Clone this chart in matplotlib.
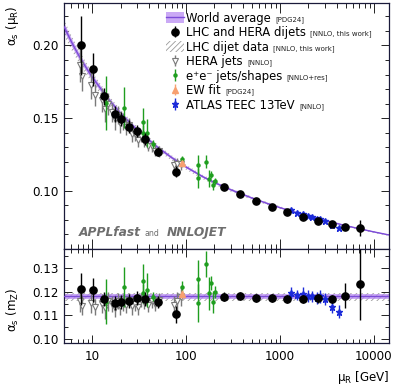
import matplotlib
matplotlib.use("Agg")
import matplotlib.pyplot as plt
from matplotlib.patches import Patch
from matplotlib.lines import Line2D
import matplotlib.ticker as mticker

plt.rcParams['font.family'] = ['DejaVu Sans']
plt.rcParams['mathtext.fontset'] = 'dejavusans'
plt.rcParams['mathtext.default'] = 'regular'
plt.rcParams['hatch.linewidth'] = 0.6

# ---------------- data ----------------
# world average running curve  alpha_s(mu), and band half width
curve_mu = [5, 6, 7, 8, 10, 15, 20, 30, 50, 70, 100, 150, 200, 300, 500, 700,
            1000, 1500, 2000, 3000, 5000, 7000, 10000, 14500]
curve_as = [0.2130, 0.2025, 0.19445, 0.1880, 0.17817, 0.1628, 0.15337, 0.14194,
            0.12983, 0.12293, 0.11638, 0.10978, 0.10572, 0.10074, 0.09513, 0.09177,
            0.08846, 0.08498, 0.08267, 0.07962, 0.07609, 0.07394, 0.07177, 0.06966]
curve_err = [0.0029, 0.0027, 0.0024, 0.0023, 0.0021, 0.0017, 0.0015, 0.0013, 0.0011,
             0.0010, 0.0009, 0.0008, 0.0007, 0.0007, 0.0006, 0.0005, 0.0005, 0.0005,
             0.0004, 0.0004, 0.0004, 0.0004, 0.0003, 0.0003]
# LHC dijet data fit band (hatched)
dijet_band_as = [0.2123, 0.2019, 0.1939, 0.1875, 0.1777, 0.1624, 0.1530, 0.1416, 0.1296,
                 0.1227, 0.1162, 0.1096, 0.1056, 0.1006, 0.0950, 0.0917, 0.0884, 0.0849,
                 0.0826, 0.0795, 0.0760, 0.0739, 0.0717, 0.0696]
dijet_band_err = [0.0055, 0.0050, 0.0046, 0.0043, 0.0039, 0.0032, 0.0029, 0.0025, 0.0021,
                  0.0018, 0.0017, 0.0015, 0.0014, 0.0012, 0.0011, 0.0010, 0.0010, 0.0009,
                  0.0008, 0.0008, 0.0007, 0.0007, 0.0006, 0.0006]
wa_mz, wa_mz_err = 0.1180, 0.0009
dijet_mz, dijet_mz_err = 0.1178, 0.0017

# LHC and HERA dijets (this work)
mu_lh = [7.58, 10.3, 13.5, 17.6, 20.3, 24.9, 29.9, 36.9, 50.0, 78.3, 252, 375, 560, 822,
         1187, 1770, 2556, 3574, 4914, 7097]
as_mu_lh = [0.2000, 0.1835, 0.1650, 0.1527, 0.1493, 0.1442, 0.1412, 0.1356, 0.1269, 0.1132,
            0.1027, 0.0980, 0.0930, 0.0890, 0.0856, 0.0822, 0.0794, 0.0770, 0.0750, 0.0745]
err_mu_lh = [0.0200, 0.0115, 0.0060, 0.0055, 0.0050, 0.0047, 0.0044, 0.0040, 0.0030, 0.0037,
             0.0013, 0.0012, 0.0011, 0.0010, 0.0009, 0.0008, 0.0008, 0.0008, 0.0022, 0.0055]
as_mz_lh = [0.1212, 0.1206, 0.1169, 0.1151, 0.1155, 0.1160, 0.1172, 0.1169, 0.1155, 0.1104,
            0.1179, 0.1182, 0.1172, 0.1172, 0.1169, 0.1168, 0.1172, 0.1170, 0.1183, 0.1232]
err_mz_lh = [0.0068, 0.0050, 0.0030, 0.0030, 0.0030, 0.0030, 0.0030, 0.0030, 0.0025, 0.0035,
             0.0018, 0.0017, 0.0017, 0.0017, 0.0016, 0.0017, 0.0018, 0.0018, 0.0053, 0.0150]

# HERA jets
mu_hera = [7.4, 7.8, 9.8, 10.6, 12.8, 13.6, 14.6, 16.4, 17.4, 18.6, 19.8, 21.2, 23.0, 24.6,
           26.5, 28.6, 30.6, 33.0, 36.0, 39.0, 43.0, 47.0, 52.0, 74.0, 80.0, 88.0]
as_mu_hera = [0.1865, 0.1789, 0.1727, 0.1660, 0.1627, 0.1565, 0.1599, 0.1540, 0.1493, 0.1522,
              0.1469, 0.1476, 0.1438, 0.1452, 0.1390, 0.1389, 0.1350, 0.1376, 0.1342, 0.1311,
              0.1308, 0.1276, 0.1272, 0.1178, 0.1184, 0.1185]
err_mu_hera = [0.0119, 0.0103, 0.0092, 0.0078, 0.0082, 0.0090, 0.0077, 0.0064, 0.0072, 0.0061,
               0.0068, 0.0058, 0.0056, 0.0047, 0.0053, 0.0044, 0.0050, 0.0042, 0.0041, 0.0040,
               0.0038, 0.0037, 0.0036, 0.0043, 0.0042, 0.0040]
as_mz_hera = [0.1160, 0.1140, 0.1152, 0.1135, 0.1150, 0.1130, 0.1160, 0.1148, 0.1132, 0.1160,
              0.1140, 0.1155, 0.1145, 0.1165, 0.1138, 0.1150, 0.1135, 0.1165, 0.1155, 0.1145,
              0.1160, 0.1150, 0.1165, 0.1142, 0.1160, 0.1178]
err_mz_hera = [0.0045, 0.0040, 0.0040, 0.0035, 0.0040, 0.0045, 0.0040, 0.0035, 0.0040, 0.0035,
               0.0040, 0.0035, 0.0035, 0.0030, 0.0035, 0.0030, 0.0035, 0.0030, 0.0030, 0.0030,
               0.0030, 0.0030, 0.0030, 0.0040, 0.0040, 0.0040]

# e+e- jets / shapes
mu_ee = [14.1, 22.0, 35.1, 35.1, 38.2, 44.9, 91.2, 135, 135, 163, 176, 184, 192, 203]
as_mu_ee = [0.1607, 0.1572, 0.1473, 0.1400, 0.1398, 0.1323, 0.1221, 0.1179, 0.1089, 0.1201,
            0.1085, 0.1112, 0.1042, 0.1070]
err_mu_ee = [0.0186, 0.0139, 0.0096, 0.0055, 0.0093, 0.0025, 0.0022, 0.0071, 0.0071, 0.0047,
             0.0058, 0.0025, 0.0036, 0.0020]
as_mz_ee = [0.1157, 0.1220, 0.1246, 0.1193, 0.1207, 0.1179, 0.1221, 0.1252, 0.1151, 0.1317,
            0.1193, 0.1235, 0.1157, 0.1200]
err_mz_ee = [0.0095, 0.0085, 0.0070, 0.0040, 0.0070, 0.0020, 0.0022, 0.0080, 0.0080, 0.0055,
             0.0070, 0.0030, 0.0045, 0.0025]

# EW fit
mu_ew = [91.19]
as_mu_ew = [0.1192]
err_mu_ew = [0.0015]
as_mz_ew = [0.1190]
err_mz_ew = [0.0015]

# ATLAS TEEC 13 TeV
mu_teec = [1309, 1528, 1770, 1971, 2206, 2457, 2683, 3034, 3548, 4245]
as_mu_teec = [0.0869, 0.0851, 0.0842, 0.0829, 0.0819, 0.0807, 0.0805, 0.0790, 0.0766, 0.0744]
err_mu_teec = [0.0013, 0.0011, 0.0015, 0.0012, 0.0011, 0.0012, 0.0013, 0.0011, 0.0012, 0.0012]
as_mz_teec = [0.1193, 0.1186, 0.1190, 0.1182, 0.1180, 0.1172, 0.1180, 0.1168, 0.1136, 0.1115]
err_mz_teec = [0.0025, 0.0022, 0.0030, 0.0025, 0.0022, 0.0025, 0.0028, 0.0025, 0.0028, 0.0028]

legend_labels = ["World average", "LHC and HERA dijets", "LHC dijet data", "HERA jets",
                 "e\u207ae\u207b jets/shapes", "EW fit", "ATLAS TEEC 13TeV"]
legend_notes = ["[PDG24]", "[NNLO, this work]", "[NNLO, this work]", "[NNLO]",
                "[NNLO+res]", "[PDG24]", "[NNLO]"]

xtick_vals = [10, 100, 1000, 10000]
xtick_labels = ["10", "100", "1000", "10000"]
ytick_top = [0.10, 0.15, 0.20]
ytick_top_labels = ["0.10", "0.15", "0.20"]
ytick_bot = [0.10, 0.11, 0.12, 0.13]
ytick_bot_labels = ["0.10", "0.11", "0.12", "0.13"]

# ---------------- style ----------------
C_WA_FILL = '#b98cf2'
C_WA_LINE = '#7c4bd8'
C_HATCH = '#9a9a9a'
C_GREY = '#7a7a7a'
C_GREEN = '#1f9e1f'
C_BLUE = '#1c2bd9'
C_ORANGE = '#f7a070'
FRAME = '#1a1a3a'
FS = 8.6

fig = plt.figure(figsize=(3.98, 3.88), dpi=100)
ax1 = fig.add_axes([0.1608, 0.3582, 0.8166, 0.6333])
ax2 = fig.add_axes([0.1608, 0.1152, 0.8166, 0.2430], sharex=ax1)

# --- top panel ---
lo_d = [c - e for c, e in zip(dijet_band_as, dijet_band_err)]
hi_d = [c + e for c, e in zip(dijet_band_as, dijet_band_err)]
ax1.fill_between(curve_mu, lo_d, hi_d, facecolor='none', edgecolor=C_HATCH,
                 hatch='//////', linewidth=0, zorder=1)
lo_w = [c - e for c, e in zip(curve_as, curve_err)]
hi_w = [c + e for c, e in zip(curve_as, curve_err)]
ax1.fill_between(curve_mu, lo_w, hi_w, facecolor=C_WA_FILL, alpha=0.75, linewidth=0, zorder=2)
ax1.plot(curve_mu, curve_as, color=C_WA_LINE, lw=1.0, zorder=3)

eb_kw = dict(linestyle='none', capsize=0)
h_hera = ax1.errorbar(mu_hera, as_mu_hera, yerr=err_mu_hera, marker='v', ms=3.9,
                      mfc='white', mec=C_GREY, mew=0.8, ecolor=C_GREY, elinewidth=1.0,
                      zorder=4, **eb_kw)
h_ee = ax1.errorbar(mu_ee, as_mu_ee, yerr=err_mu_ee, marker='o', ms=2.2, color=C_GREEN,
                    ecolor=C_GREEN, elinewidth=1.0, zorder=5, **eb_kw)
h_teec = ax1.errorbar(mu_teec, as_mu_teec, yerr=err_mu_teec, marker='*', ms=4.5,
                      color=C_BLUE, ecolor=C_BLUE, elinewidth=1.0, zorder=5, **eb_kw)
h_lh = ax1.errorbar(mu_lh, as_mu_lh, yerr=err_mu_lh, marker='o', ms=5.2, color='black',
                    ecolor='black', elinewidth=1.0, zorder=6, **eb_kw)
h_ew = ax1.errorbar(mu_ew, as_mu_ew, yerr=err_mu_ew, marker='^', ms=3.8, color=C_ORANGE,
                    ecolor=C_ORANGE, elinewidth=1.0, zorder=7, **eb_kw)

# --- bottom panel ---
ax2.axhspan(dijet_mz - dijet_mz_err, dijet_mz + dijet_mz_err, facecolor='none',
            edgecolor=C_HATCH, hatch='//////', linewidth=0, zorder=1)
ax2.axhspan(wa_mz - wa_mz_err, wa_mz + wa_mz_err, facecolor=C_WA_FILL, alpha=0.75,
            linewidth=0, zorder=2)
ax2.axhline(wa_mz, color=C_WA_LINE, lw=1.0, zorder=3)
ax2.errorbar(mu_hera, as_mz_hera, yerr=err_mz_hera, marker='v', ms=3.9, mfc='white',
             mec=C_GREY, mew=0.8, ecolor=C_GREY, elinewidth=1.0, zorder=4, **eb_kw)
ax2.errorbar(mu_ee, as_mz_ee, yerr=err_mz_ee, marker='o', ms=2.2, color=C_GREEN,
             ecolor=C_GREEN, elinewidth=1.0, zorder=5, **eb_kw)
ax2.errorbar(mu_teec, as_mz_teec, yerr=err_mz_teec, marker='*', ms=4.5, color=C_BLUE,
             ecolor=C_BLUE, elinewidth=1.0, zorder=5, **eb_kw)
ax2.errorbar(mu_lh, as_mz_lh, yerr=err_mz_lh, marker='o', ms=5.2, color='black',
             ecolor='black', elinewidth=1.0, zorder=6, **eb_kw)
ax2.errorbar(mu_ew, as_mz_ew, yerr=err_mz_ew, marker='^', ms=3.8, color=C_ORANGE,
             ecolor=C_ORANGE, elinewidth=1.0, zorder=7, **eb_kw)

# --- axes ---
for ax in (ax1, ax2):
    ax.set_xscale('log')
    ax.set_xlim(5, 14500)
    for s in ax.spines.values():
        s.set_color(FRAME)
        s.set_linewidth(0.9)
    ax.tick_params(which='both', direction='in', top=True, right=True, color='#222222',
                   labelsize=FS, width=0.7)
    ax.tick_params(which='major', length=5.5)
    ax.tick_params(which='minor', length=2.8)
    ax.xaxis.set_minor_locator(mticker.LogLocator(base=10, subs=range(2, 10), numticks=20))
    ax.xaxis.set_minor_formatter(mticker.NullFormatter())

ax1.tick_params(axis='x', which='major', length=7)
ax1.tick_params(axis='x', which='minor', length=3.5)
ax1.set_ylim(0.060, 0.229)
ax1.set_yticks(ytick_top)
ax1.set_yticklabels(ytick_top_labels)
ax1.yaxis.set_minor_locator(mticker.MultipleLocator(0.01))
ax1.tick_params(axis='x', labelbottom=False)

ax2.set_ylim(0.0982, 0.138)
ax2.set_yticks(ytick_bot)
ax2.set_yticklabels(ytick_bot_labels)
ax2.yaxis.set_minor_locator(mticker.MultipleLocator(0.005))
ax2.set_xticks(xtick_vals)
ax2.set_xticklabels(xtick_labels)
ax2.tick_params(axis='x', pad=5)
ax2.tick_params(axis='y', pad=4)
ax1.tick_params(axis='y', pad=4)

ax1.set_ylabel(r"$\alpha_{s}$ ($\mu_{R}$)", fontsize=FS, loc='top')
ax1.yaxis.set_label_coords(-0.133, 0.99)
ax2.set_ylabel(r"$\alpha_{s}$ ($m_{Z}$)", fontsize=FS)
ax2.yaxis.set_label_coords(-0.133, 0.36)
ax2.set_xlabel(r"$\mu_{R}$ [GeV]", fontsize=FS, loc='right')

# --- legend ---
wa_handle = (Patch(facecolor=C_WA_FILL, alpha=0.75, linewidth=0),
             Line2D([], [], color=C_WA_LINE, lw=1.0))
hatch_handle = Patch(facecolor='none', edgecolor=C_HATCH, hatch='//////', linewidth=0)
handles = [wa_handle, h_lh, hatch_handle, h_hera, h_ee, h_ew, h_teec]
leg = ax1.legend(handles, legend_labels, loc='upper left', bbox_to_anchor=(0.314, 0.966),
                 frameon=False, fontsize=8.4, handlelength=1.55, handleheight=1.0,
                 handletextpad=0.2, labelspacing=0.13, borderpad=0, borderaxespad=0)

fig.canvas.draw()
r = fig.canvas.get_renderer()
inv = fig.transFigure.inverted()
for t, note in zip(leg.get_texts(), legend_notes):
    bb = t.get_window_extent(r)
    x, y = inv.transform((bb.x1 + 4, bb.y0 + 1.8))
    fig.text(x, y, note, fontsize=5.0, va='bottom', ha='left', color='#222222')

# --- APPLfast and NNLOJET label ---
t1 = ax1.text(0.046, 0.053, "APPLfast", transform=ax1.transAxes, fontsize=8.8,
              fontweight='bold', fontstyle='italic', color='#6e6e6e', va='baseline')
fig.canvas.draw()
bb1 = t1.get_window_extent(r)
xa, ya = ax1.transAxes.inverted().transform((bb1.x1 + 4, 0))
t2 = ax1.text(xa, 0.053, "and", transform=ax1.transAxes, fontsize=5.6, color='#6e6e6e',
              va='baseline')
fig.canvas.draw()
bb2 = t2.get_window_extent(r)
xb, yb = ax1.transAxes.inverted().transform((bb2.x1 + 7, 0))
ax1.text(xb, 0.053, "NNLOJET", transform=ax1.transAxes, fontsize=8.8, fontweight='bold',
         fontstyle='italic', color='#6e6e6e', va='baseline')

fig.savefig("out.png", dpi=100)
